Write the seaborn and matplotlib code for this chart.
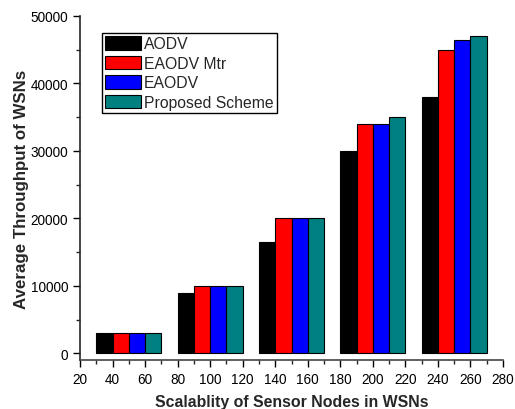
import matplotlib
matplotlib.use("Agg")
import matplotlib.pyplot as plt
import seaborn as sns
import pandas as pd
from matplotlib.ticker import MultipleLocator

nodes = [50, 100, 150, 200, 250]
series = ["AODV", "EAODV Mtr", "EAODV", "Proposed Scheme"]
aodv = [3000, 9000, 16500, 30000, 38000]
eaodv_mtr = [3000, 10000, 20000, 34000, 45000]
eaodv = [3000, 10000, 20000, 34000, 46500]
proposed = [3000, 10000, 20000, 35000, 47000]
colors = ["#000000", "#FF0000", "#0000FF", "#008080"]

rows = []
for name, vals in zip(series, [aodv, eaodv_mtr, eaodv, proposed]):
    for n, v in zip(nodes, vals):
        rows.append({"nodes": n, "throughput": v, "scheme": name})
df = pd.DataFrame(rows)

sns.set_style("ticks")
plt.rcParams["font.family"] = ["Liberation Sans", "DejaVu Sans"]

fig = plt.figure(figsize=(5.15, 4.10), dpi=100)
ax = fig.add_axes([80/515, 1 - 361/410, (503-80)/515, (361-17)/410])

sns.barplot(data=df, x="nodes", y="throughput", hue="scheme", hue_order=series,
            palette=colors, native_scale=True, width=0.8, edgecolor="black",
            linewidth=0.8, saturation=1, ax=ax, errorbar=None)

ax.set_xlim(20, 280)
ax.set_ylim(-1000, 50000)
ax.set_xticks(range(20, 281, 20))
ax.xaxis.set_minor_locator(MultipleLocator(10))
ax.set_yticks(range(0, 50001, 10000))
ax.yaxis.set_minor_locator(MultipleLocator(5000))
ax.tick_params(axis="both", which="major", direction="out", length=5, width=1,
               labelsize=9.8, colors="black")
ax.tick_params(axis="both", which="minor", direction="out", length=3, width=1)
for s in ["top", "right"]:
    ax.spines[s].set_visible(False)
ax.spines["left"].set_linewidth(1.2)
ax.spines["bottom"].set_linewidth(1.2)
ax.spines["bottom"].set_color("#444444")

ax.set_xlabel("Scalablity of Sensor Nodes in WSNs", fontsize=11.4, fontweight="bold", labelpad=6)
ax.set_ylabel("Average Throughput of WSNs", fontsize=12.2, fontweight="bold", labelpad=1)

leg = ax.legend(loc="upper left", bbox_to_anchor=(0.052, 0.95), fontsize=11.3,
                frameon=True, fancybox=False, edgecolor="black", framealpha=1,
                handlelength=2.3, handleheight=0.95, handletextpad=0.2,
                labelspacing=0.28, borderpad=0.18, borderaxespad=0)
leg.get_frame().set_linewidth(1.0)
leg.set_title(None)

fig.savefig("out.png", dpi=100)
